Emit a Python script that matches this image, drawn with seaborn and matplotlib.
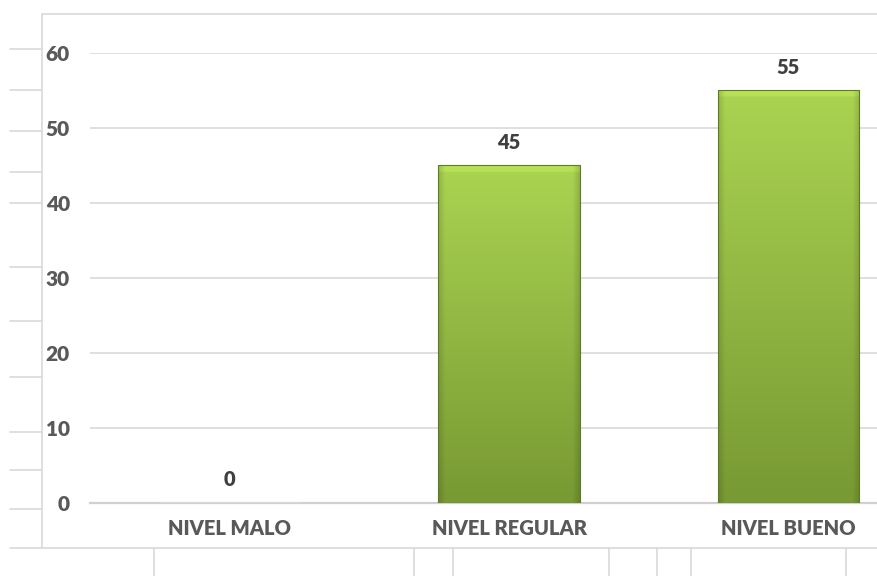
import numpy as np
import pandas as pd
import matplotlib
matplotlib.use("Agg")
import matplotlib.pyplot as plt
from matplotlib.lines import Line2D
import seaborn as sns

categories = ["NIVEL MALO", "NIVEL REGULAR", "NIVEL BUENO"]
values = [0, 45, 55]
yticks = [0, 10, 20, 30, 40, 50, 60]

sns.set_style("white")
plt.rcParams["font.family"] = ["Lato", "DejaVu Sans"]
plt.rcParams["font.weight"] = "heavy"

W, H = 877, 576
fig = plt.figure(figsize=(W / 100, H / 100), dpi=100)
ax = fig.add_axes([90 / W, 1 - 502.7 / H, 1 - 90 / W, (502.7 - 52.7) / H])

df = pd.DataFrame({"nivel": categories, "pct": values})
sns.barplot(data=df, x="nivel", y="pct", color="#95bd43", width=0.505,
            ax=ax, zorder=3)

# gradient fill with a soft bevel on each bar
top = np.array([0.67, 0.83, 0.32])
bot = np.array([0.47, 0.60, 0.20])
for p in ax.patches:
    x0, y0 = p.get_x(), p.get_y()
    w, h = p.get_width(), p.get_height()
    if h <= 0:
        continue
    ny, nx = 200, 141
    t = np.linspace(0, 1, ny)[:, None, None]
    img = top * (1 - t) + bot * t
    img = np.repeat(img, nx, axis=1)
    xs = np.linspace(0, 1, nx)
    edge = np.minimum(xs, 1 - xs) * nx
    shade = np.where(edge < 7, 0.86 + 0.02 * edge, 1.0)
    img = img * shade[None, :, None]
    # light bevel along the top
    hpx = h * 7.5
    band = np.linspace(0, hpx, ny)
    img[band < 6] = np.clip(img[band < 6] * 1.07, 0, 1)
    im = ax.imshow(img, extent=(x0, x0 + w, y0, y0 + h), aspect="auto",
                   zorder=3, interpolation="bilinear")
    im.set_clip_path(p)
    p.set_facecolor("none")
    p.set_edgecolor("#5d7a24")
    p.set_linewidth(0.8)
    p.set_zorder(4)

for i, v in enumerate(values):
    ax.annotate(f"{v}", (i, v), xytext=(0, 16.5), textcoords="offset points",
                ha="center", va="center", fontsize=14.5, fontweight="heavy",
                color="#404040")

ax.set_xlim(-0.5, (W - 230.5) / 279)
ax.set_ylim(0, 60)
ax.set_yticks(yticks)
ax.set_xlabel("")
ax.set_ylabel("")
ax.grid(axis="y", color="#d9d9d9", linewidth=1.2, zorder=0)
ax.grid(axis="x", visible=False)
for s in ["top", "right", "left"]:
    ax.spines[s].set_visible(False)
ax.spines["bottom"].set_color("#d0d0d0")
ax.spines["bottom"].set_linewidth(1.6)
ax.tick_params(axis="y", length=0, pad=14.4, labelsize=15, labelcolor="#595959")
ax.tick_params(axis="x", length=0, pad=12, labelsize=14.5, labelcolor="#595959")
for lab in ax.get_xticklabels() + ax.get_yticklabels():
    lab.set_fontweight("heavy")


def fline(x1, y1, x2, y2):
    fig.add_artist(Line2D([x1 / W, x2 / W], [1 - y1 / H, 1 - y2 / H],
                          transform=fig.transFigure, color="#d9d9d9", lw=1.2))


# chart border and surrounding worksheet cells
fline(42, 14, 42, 548)
fline(42, 14, W, 14)
fline(10, 548, W, 548)
for ry in [49, 90, 131, 172, 203, 267, 321, 377, 432, 470, 509]:
    fline(10, ry, 42, ry)
for cx in [154, 414, 453, 609, 657, 691, 846]:
    fline(cx, 548, cx, H)

fig.savefig("out.png", dpi=100)
